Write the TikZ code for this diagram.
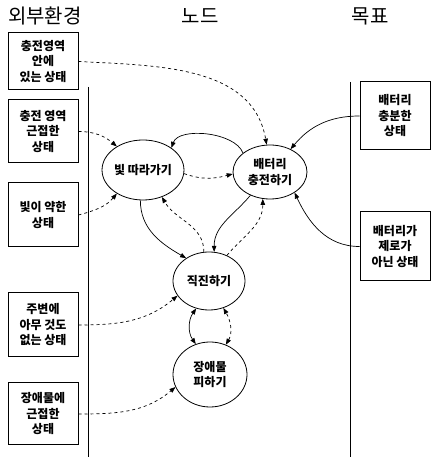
\documentclass[tikz,border=0pt]{standalone}
\usepackage{fontspec}
\setmainfont{Noto Sans CJK KR}
\usetikzlibrary{shapes.geometric,arrows.meta}
\tikzset{
  state/.style={draw,line width=1pt,minimum width=70pt,inner sep=1pt,align=center,
    font=\fontsize{12}{15.5}\selectfont\bfseries},
  behav/.style={draw,ellipse,line width=0.8pt,inner sep=0pt,align=center,
    font=\fontsize{12}{15.5}\selectfont\bfseries},
  head/.style={font=\fontsize{20}{24}\selectfont},
  succ/.style={->,line width=0.7pt},
  pred/.style={->,line width=0.7pt,dash pattern=on 3pt off 3pt},
  >={Triangle[length=6pt,width=4.5pt]}
}
\begin{document}
\begin{tikzpicture}[x=1pt,y=1pt]
      \useasboundingbox (0,0) rectangle (431,457);
      \node[head] (henv) at (45,441) {외부환경};
      \node[head] (hnode) at (200,441) {노드};
      \node[head] (hgoal) at (370,441) {목표};
      \draw[line width=0.8pt] (88,370) -- (88,0);
      \draw[line width=0.8pt] (350,375) -- (350,0);
      \node[state,minimum height=57pt] (e1) at (43,395.5) {충전영역\\안에\\있는 상태};
      \node[state,minimum height=63pt] (e2) at (43,325.5) {충전 영역\\근접한\\상태};
      \node[state,minimum height=64pt] (e3) at (43,242) {빛이 약한\\상태};
      \node[state,minimum height=64pt] (e4) at (43,132) {주변에\\아무 것도\\없는 상태};
      \node[state,minimum height=62pt] (e5) at (43,43) {장애물에\\근접한\\상태};
      \node[state,minimum height=68pt] (g1) at (395,341) {배터리\\충분한\\상태};
      \node[state,minimum height=69pt] (g2) at (395,210.5) {배터리가\\제로가\\아닌 상태};
      \node[behav,minimum width=80pt,minimum height=60pt] (follow) at (143,287) {빛 따라가기};
      \node[behav,minimum width=74pt,minimum height=54pt] (charge) at (270,285) {배터리\\충전하기};
      \node[behav,minimum width=72pt,minimum height=58pt] (straight) at (209,176) {직진하기};
      \node[behav,minimum width=74pt,minimum height=65pt] (avoid) at (210,82.5) {장애물\\피하기};
      \begin{scope}[pred]
        \draw (e1.east) to[out=-3,in=100] (charge.97);
        \draw (e2.east) to[out=0,in=140] (follow.138);
        \draw (e3.east) to[out=15,in=230] (follow.222);
        \draw (e4.east) to[out=0,in=220] (straight.205);
        \draw (e5.east) to[out=0,in=220] (avoid.200);
        \draw (follow.-5) to[out=-20,in=195] (charge.183);
        \draw (straight.100) to[out=90,in=-60] (follow.-55);
        \draw (straight.55) to[out=50,in=-90] (charge.-105);
        \draw[<->] (avoid.62) to[out=60,in=-60] (straight.-62);
      \end{scope}
      \begin{scope}[succ]
        \draw (charge.145) to[out=110,in=70,looseness=0.8] (follow.38);
        \draw (follow.-95) to[out=-90,in=150] (straight.135);
        \draw (charge.-130) to[out=230,in=90] (straight.80);
        \draw (g1.west) to[out=180,in=50] (charge.48);
        \draw (g2.west) to[out=180,in=-65] (charge.-40);
        \draw[<->] (avoid.115) to[out=125,in=-125] (straight.-115);
      \end{scope}
    \end{tikzpicture}
\end{document}
